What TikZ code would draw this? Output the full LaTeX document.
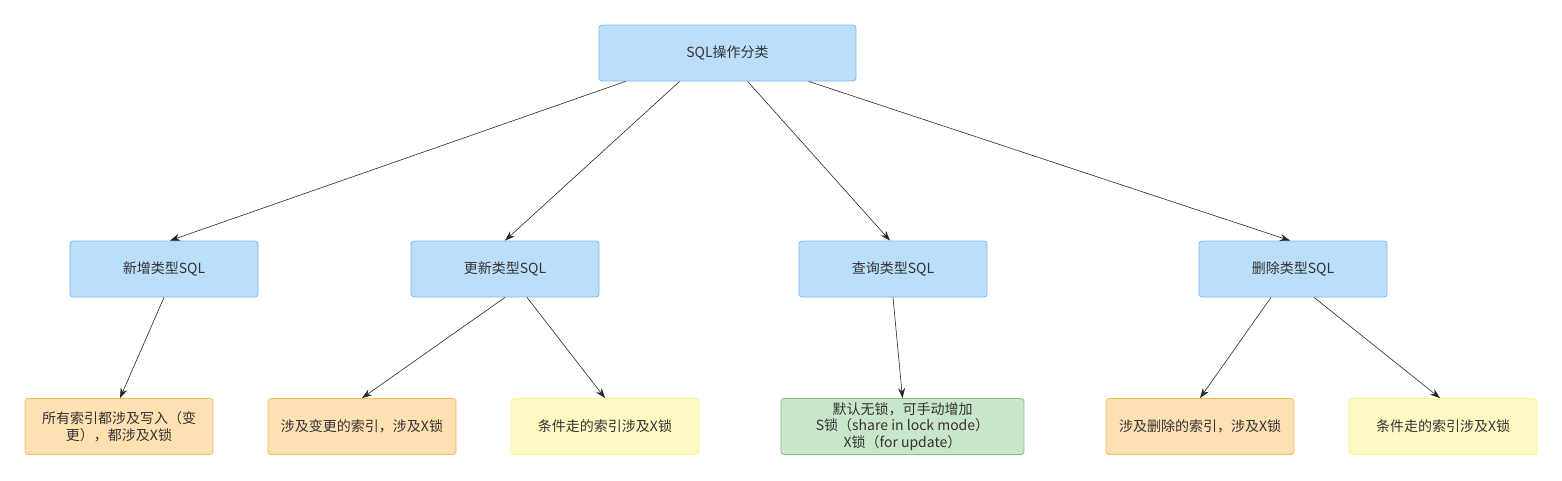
\documentclass[tikz,border=0pt]{standalone}
\usepackage{fontspec}
\setmainfont{Liberation Sans}
\newfontfamily\cjk{Noto Sans CJK SC}
\usetikzlibrary{arrows.meta}

\definecolor{blueFill}{HTML}{BBDEFB}
\definecolor{blueLine}{HTML}{7EB6EC}
\definecolor{orangeFill}{HTML}{FFE0B2}
\definecolor{orangeLine}{HTML}{F5B963}
\definecolor{yellowFill}{HTML}{FFF9C4}
\definecolor{yellowLine}{HTML}{FFF0A0}
\definecolor{greenFill}{HTML}{C8E6C9}
\definecolor{greenLine}{HTML}{82C285}

\tikzset{
    box/.style={draw, rounded corners=3pt, line width=0.8pt,
        minimum width=188pt, minimum height=56pt, align=center,
        font=\cjk\fontsize{14}{16.5}\selectfont, text=black!80},
    catbox/.style={box, fill=blueFill, draw=blueLine},
    xbox/.style={box, fill=orangeFill, draw=orangeLine},
    condbox/.style={box, fill=yellowFill, draw=yellowLine},
    readbox/.style={box, fill=greenFill, draw=greenLine, minimum width=243pt},
    link/.style={->, line width=0.6pt, black!85}
}

\begin{document}
\begin{tikzpicture}[x=1pt, y=-1pt, >={Stealth[length=10pt,width=7pt]}]
            \useasboundingbox (0,0) rectangle (1562,480);

            % root
            \node[catbox, minimum width=257pt] (sql) at (727.5,53) {SQL操作分类};

            % sql types
            \node[catbox] (ins) at (164,269) {新增类型SQL};
            \node[catbox] (upd) at (505,269) {更新类型SQL};
            \node[catbox] (sel) at (893,269) {查询类型SQL};
            \node[catbox] (del) at (1293,269) {删除类型SQL};

            % locks
            \node[xbox]    (insX)  at (119,426.5) {所有索引都涉及写入（变\\更），都涉及X锁};
            \node[xbox]    (updX)  at (362,426.5) {涉及变更的索引，涉及X锁};
            \node[condbox] (updC)  at (605,426.5) {条件走的索引涉及X锁};
            \node[readbox] (selL)  at (902.5,426.5) {默认无锁，可手动增加\\S锁（share in lock mode）\\X锁（for update）};
            \node[xbox]    (delX)  at (1200,426.5) {涉及删除的索引，涉及X锁};
            \node[condbox] (delC)  at (1443,426.5) {条件走的索引涉及X锁};

            \path
            ([xshift=27pt]sql.south west)   edge[link] ([xshift=6pt]ins.north)
            ([xshift=81pt]sql.south west)   edge[link] (upd.north)
            ([xshift=149pt]sql.south west)  edge[link] ([xshift=-3pt]sel.north)
            ([xshift=210pt]sql.south west)  edge[link] ([xshift=-3pt]del.north)
            (ins.south)                     edge[link] ([xshift=1pt]insX.north)
            (upd.south)                     edge[link] (updX.north)
            ([xshift=22pt]upd.south)        edge[link] (updC.north)
            (sel.south)                     edge[link] (selL.north)
            ([xshift=-22pt]del.south)       edge[link] (delX.north)
            ([xshift=21pt]del.south)        edge[link] ([xshift=-3pt]delC.north);
        \end{tikzpicture}
\end{document}
